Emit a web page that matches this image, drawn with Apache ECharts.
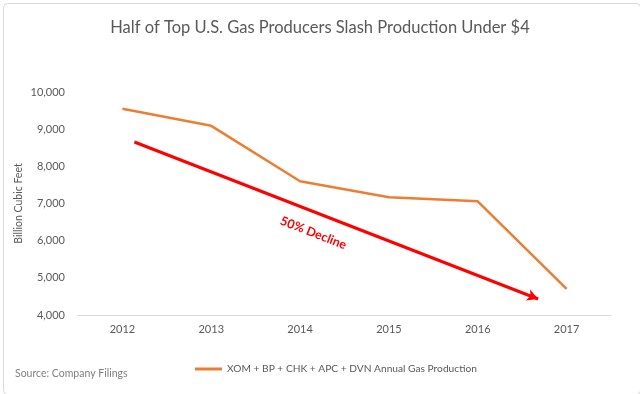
<!DOCTYPE html>
<html>
<head>
<meta charset="utf-8">
<script src="https://cdn.jsdelivr.net/npm/echarts@6/dist/echarts.min.js"></script>
<style>html,body{margin:0;padding:0;background:#fff}#c{width:640px;height:394px}</style>
</head>
<body>
<div id="c"></div>
<script>
const years = ['2012','2013','2014','2015','2016','2017'];
const production = [9550, 9090, 7600, 7170, 7060, 4700];
const seriesName = 'XOM + BP + CHK + APC + DVN Annual Gas Production';
const yTicks = {min: 4000, max: 10000, interval: 1000};
// red trend arrow: [category position, value]
const arrowStart = [0.135, 8655];
const arrowEnd = [4.68, 4431];
const declineLabel = {text: '50% Decline', at: [2.15, 6207]};

const FONT = 'Lato';
const chart = echarts.init(document.getElementById('c'));
chart.setOption({
  animation: false,
  textStyle: {fontFamily: FONT},
  title: {
    text: 'Half of Top U.S. Gas Producers Slash Production Under $4',
    left: 'center', top: 14,
    textStyle: {fontFamily: FONT, fontSize: 16.5, fontWeight: 'normal', color: '#595959'}
  },
  legend: {
    data: [seriesName],
    left: 190, top: 359,
    itemWidth: 27, itemHeight: 3, itemGap: 4, icon: 'rect',
    textStyle: {fontFamily: FONT, fontSize: 10.2, color: '#595959'}
  },
  grid: {left: 78, right: 29, top: 92, bottom: 79},
  xAxis: [{
    type: 'category', data: years, boundaryGap: true,
    axisLine: {lineStyle: {color: '#d9d9d9', width: 1}},
    axisTick: {show: false},
    axisLabel: {fontFamily: FONT, fontSize: 11, color: '#595959', margin: 9}
  }, {
    type: 'value', min: -0.5, max: 5.5, show: false
  }],
  yAxis: {
    type: 'value', min: yTicks.min, max: yTicks.max, interval: yTicks.interval,
    name: 'Billion Cubic Feet', nameLocation: 'middle', nameGap: 54, nameMoveOverlap: false,
    nameTextStyle: {fontFamily: FONT, fontSize: 10.5, color: '#595959'},
    axisLine: {show: false}, axisTick: {show: false}, splitLine: {show: false},
    axisLabel: {fontFamily: FONT, fontSize: 11, color: '#595959', margin: 13,
      formatter: v => v.toLocaleString('en-US')}
  },
  series: [{
    name: seriesName, type: 'line', data: production,
    symbol: 'none', itemStyle: {color: '#ED7D31'},
    lineStyle: {color: '#ED7D31', width: 2.5}
  }, {
    name: 'trend', type: 'line', xAxisIndex: 1,
    data: [arrowStart, arrowEnd], symbol: 'none', silent: true,
    lineStyle: {width: 0},
    markLine: {
      silent: true, symbol: ['none', 'arrow'], symbolSize: [9, 11],
      label: {show: false},
      lineStyle: {color: '#FF0000', width: 3, type: 'solid'},
      data: [[{coord: arrowStart}, {coord: arrowEnd}]]
    }
  }],
  graphic: [{
    type: 'rect', left: 1, top: 1,
    shape: {width: 637, height: 391, r: 4},
    style: {fill: 'none', stroke: '#d9d9d9', lineWidth: 1}, silent: true
  }, {
    type: 'text', left: 15, top: 368,
    style: {text: 'Source: Company Filings', fill: '#7f7f7f', fontFamily: FONT, fontSize: 10.5}
  }]
});
const p = chart.convertToPixel({xAxisIndex: 1, yAxisIndex: 0}, declineLabel.at);
const a = chart.convertToPixel({xAxisIndex: 1, yAxisIndex: 0}, arrowStart);
const b = chart.convertToPixel({xAxisIndex: 1, yAxisIndex: 0}, arrowEnd);
const ang = -Math.atan2(b[1] - a[1], b[0] - a[0]);
chart.setOption({graphic: [{}, {}, {
  type: 'text', x: p[0], y: p[1], rotation: ang, silent: true,
  style: {text: declineLabel.text, fill: '#FF0000', fontFamily: FONT, fontSize: 12.5,
    fontWeight: 'bold', align: 'center', verticalAlign: 'middle'}
}]});
</script>
</body>
</html>
